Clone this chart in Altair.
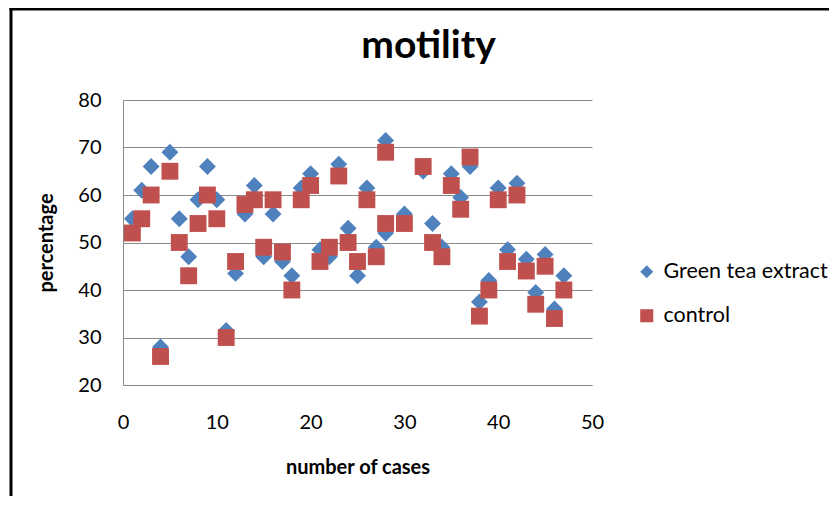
import altair as alt
import pandas as pd

# ---- data ----
cases = [1, 2, 3, 4, 5, 6, 7, 8, 9, 10, 11, 12, 13, 14, 15, 16, 17, 18, 19, 20,
         21, 22, 23, 24, 25, 26, 27, 28, 28, 30, 32, 33, 34, 35, 36, 37, 38, 39,
         40, 41, 42, 43, 44, 45, 46, 47]
green_tea = [55, 61, 66, 28, 69, 55, 47, 59, 66, 59,
             31.5, 43.5, 56, 62, 47, 56, 46, 43, 61.5, 64.5,
             48.5, 47, 66.5, 53, 43, 61.5, 49, 71.5, 52, 56,
             65, 54, 49, 64.5, 59.5, 66, 37.5, 42, 61.5, 48.5,
             62.5, 46.5, 39.5, 47.5, 36, 43]
control = [52, 55, 60, 26, 65, 50, 43, 54, 60, 55,
           30, 46, 58, 59, 49, 59, 48, 40, 59, 62,
           46, 49, 64, 50, 46, 59, 47, 69, 54, 54,
           66, 50, 47, 62, 57, 68, 34.5, 40, 59, 46,
           60, 44, 37, 45, 34, 40]
series_names = ["Green tea extract", "control"]
x_ticks = [0, 10, 20, 30, 40, 50]
y_ticks = [20, 30, 40, 50, 60, 70, 80]

rows = []
for c, v in zip(cases, green_tea):
    rows.append({"case": c, "value": v, "series": series_names[0]})
for c, v in zip(cases, control):
    rows.append({"case": c, "value": v, "series": series_names[1]})
df = pd.DataFrame(rows)

W, H = 469, 285
PAD = {"left": 115, "top": 92, "right": 237, "bottom": 111}
FONT = "Lato"
GRID = "#898989"

legend = alt.Legend(
    title=None, orient="none", legendX=513, legendY=161,
    labelFont=FONT, labelFontSize=21.5, labelColor="black", labelLimit=400,
    symbolSize=170, symbolStrokeWidth=0, symbolOpacity=1,
    rowPadding=21, labelOffset=6, padding=0,
)

points = alt.Chart(df).mark_point(filled=True, opacity=1, size=285).encode(
    x=alt.X("case:Q",
            scale=alt.Scale(domain=[0, 50], nice=False, zero=False),
            axis=alt.Axis(values=x_ticks, title="number of cases", grid=False,
                          ticks=False, domainColor=GRID, labelPadding=27,
                          labelFlush=False, titlePadding=25)),
    y=alt.Y("value:Q",
            scale=alt.Scale(domain=[20, 80], nice=False, zero=False),
            axis=alt.Axis(values=y_ticks, title="percentage", gridColor=GRID,
                          ticks=False, domainColor=GRID, labelPadding=22,
                          titlePadding=21)),
    color=alt.Color("series:N",
                    scale=alt.Scale(domain=series_names, range=["#4F81BD", "#C0504D"]),
                    legend=legend),
    shape=alt.Shape("series:N",
                    scale=alt.Scale(domain=series_names, range=["diamond", "square"]),
                    legend=legend),
)

frame_df = pd.DataFrame({"k": [0]})
left_border = alt.Chart(frame_df).mark_rule(color="black", strokeWidth=3).encode(
    x=alt.value(-112), y=alt.value(-92), y2=alt.value(H + 111))
top_border = alt.Chart(frame_df).mark_rule(color="black", strokeWidth=3).encode(
    x=alt.value(-113.5), x2=alt.value(W + 237), y=alt.value(-91))

chart = alt.layer(points, left_border, top_border).properties(
    width=W, height=H, padding=PAD,
    autosize=alt.AutoSizeParams(type="none"),
    title=alt.TitleParams("motility", font=FONT, fontSize=39, fontWeight="bold",
                          color="black", anchor="middle", dx=71, dy=59, offset=0),
).configure_view(stroke=None).configure_axis(
    labelFont=FONT, labelFontSize=20, labelColor="black",
    titleFont=FONT, titleFontSize=20, titleFontWeight="bold", titleColor="black",
)

chart.save("out.html", embed_options={"renderer": "svg", "actions": False})
